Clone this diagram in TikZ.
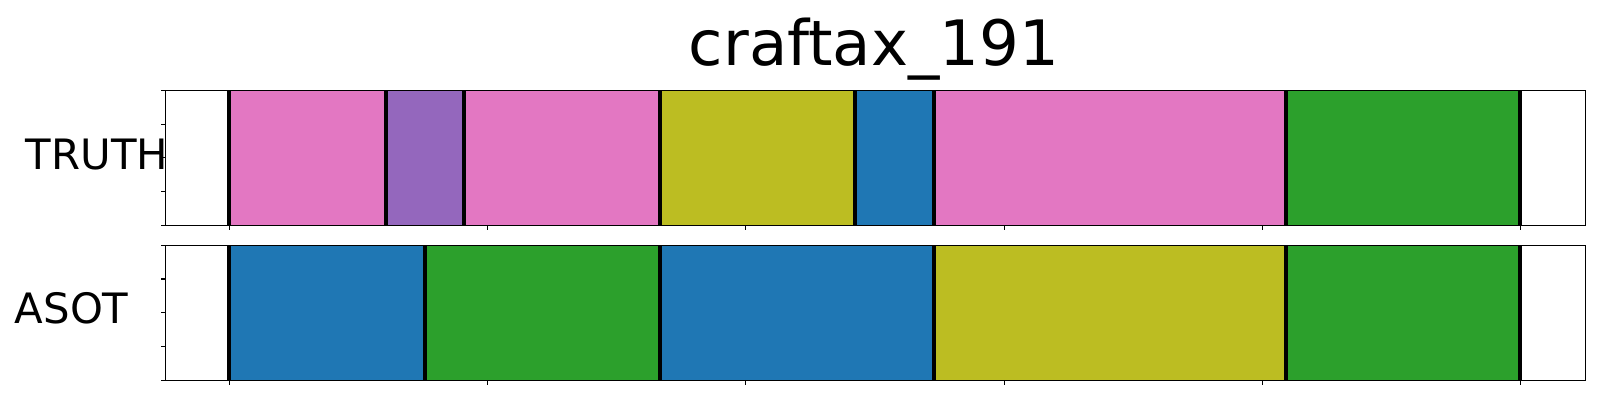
\documentclass[tikz,border=0pt]{standalone}
\usepackage{fontspec}
\setmainfont{DejaVu Sans}
\definecolor{segPink}{HTML}{E377C2}
\definecolor{segPurple}{HTML}{9467BD}
\definecolor{segOlive}{HTML}{BCBD22}
\definecolor{segBlue}{HTML}{1F77B4}
\definecolor{segGreen}{HTML}{2CA02C}

\begin{document}
\begin{tikzpicture}[x=0.01cm,y=-0.01cm,
    spine/.style={line width=0.32pt},
    cut/.style={line width=1.14pt},
    rowlabel/.style={font=\fontsize{11.9}{14}\selectfont,inner sep=0pt}]
    \useasboundingbox (0,0) rectangle (1600,400);

    % draw title and row labels
    \node[font=\fontsize{17.8}{21}\selectfont,anchor=base,inner sep=0pt] (title) at (874,65) {craftax\_191};
    \node[rowlabel] (truth) at (97,154.7) {TRUTH};
    \node[rowlabel] (asot) at (71.7,308.3) {ASOT};

    % draw TRUTH segments
    \fill[segPink] (229,90.5) rectangle (385.7,225.3);
    \fill[segPurple] (385.7,90.5) rectangle (463.7,225.3);
    \fill[segPink] (463.7,90.5) rectangle (660,225.3);
    \fill[segOlive] (660,90.5) rectangle (855,225.3);
    \fill[segBlue] (855,90.5) rectangle (934,225.3);
    \fill[segPink] (934,90.5) rectangle (1285.7,225.3);
    \fill[segGreen] (1285.7,90.5) rectangle (1520,225.3);
    \foreach \x in {229,385.7,463.7,660,855,934,1285.7,1520}
        \draw[cut] (\x,90.5) -- (\x,225.3);

    % draw ASOT segments
    \fill[segBlue] (229,245.3) rectangle (425,380.3);
    \fill[segGreen] (425,245.3) rectangle (660,380.3);
    \fill[segBlue] (660,245.3) rectangle (934,380.3);
    \fill[segOlive] (934,245.3) rectangle (1285.7,380.3);
    \fill[segGreen] (1285.7,245.3) rectangle (1520,380.3);
    \foreach \x in {229,425,660,934,1285.7,1520}
        \draw[cut] (\x,245.3) -- (\x,380.3);

    % draw axes frames
    \draw[spine] (165.7,90.5) rectangle (1585.7,225.3);
    \draw[spine] (165.7,245.3) rectangle (1585.7,380.3);

    % draw ticks
    \foreach \x in {229.3,487.6,745.9,1004.1,1262.4,1520.7} {
        \draw[spine] (\x,225.3) -- ++(0,4.9);
        \draw[spine] (\x,380.3) -- ++(0,4.9);
    }
    \foreach \y in {0,33.7,67.4,101.1,134.8} {
        \draw[spine] (165.7,90.5+\y) -- ++(-4.9,0);
        \draw[spine] (165.7,245.3+\y) -- ++(-4.9,0);
    }
\end{tikzpicture}
\end{document}
